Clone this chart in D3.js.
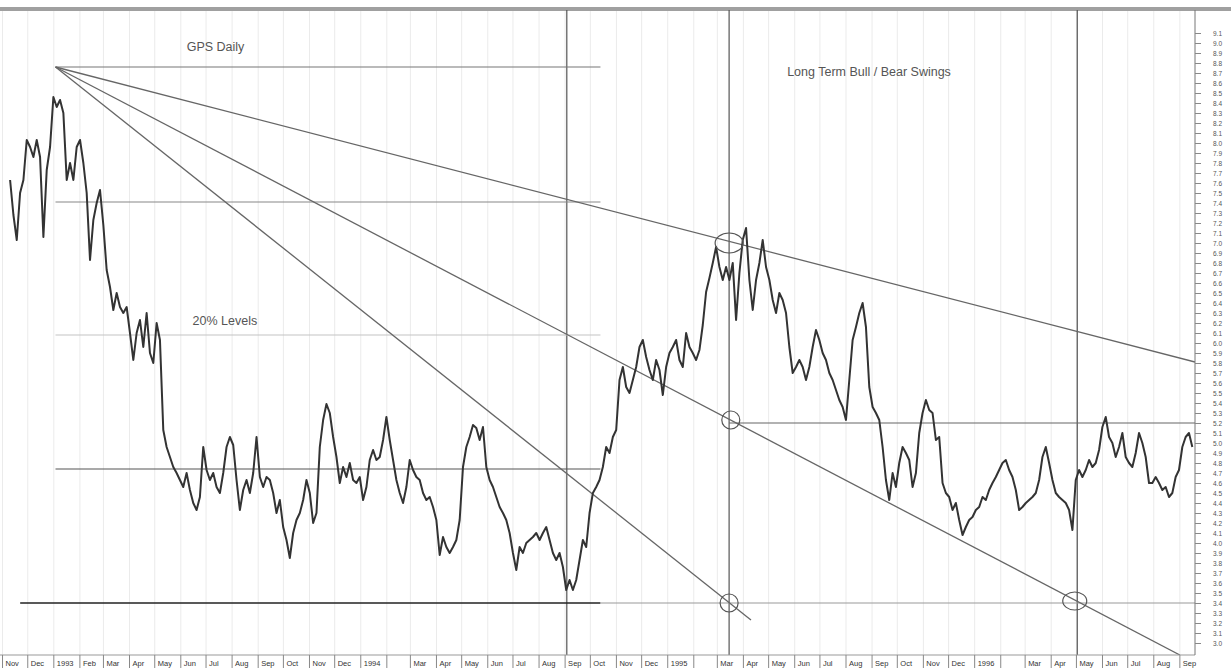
<!DOCTYPE html>
<html>
<head>
<meta charset="utf-8">
<script src="https://cdn.jsdelivr.net/npm/d3@7"></script>
<style>
  body { margin: 0; background: #fff; }
  svg { display: block; font-family: "Liberation Sans", Arial, sans-serif; }
</style>
</head>
<body>
<div id="chart"></div>
<script>
const seriesStart = new Date(1992, 10, 10);
const stepDays = 3.96;
const closes = [
  7.63, 7.28, 7.03, 7.50, 7.63, 8.03, 7.96, 7.86, 8.03, 7.86, 7.06, 7.73, 7.96, 8.46, 8.36, 8.43,
  8.30, 7.63, 7.80, 7.63, 7.96, 8.03, 7.80, 7.50, 6.83, 7.23, 7.40, 7.53, 7.18, 6.73, 6.56, 6.33,
  6.50, 6.36, 6.30, 6.36, 6.10, 5.83, 6.10, 6.23, 5.96, 6.30, 5.90, 5.80, 6.20, 6.03, 5.13, 4.96,
  4.86, 4.76, 4.70, 4.63, 4.56, 4.70, 4.53, 4.40, 4.33, 4.46, 4.96, 4.73, 4.63, 4.70, 4.56, 4.50,
  4.70, 4.96, 5.06, 4.98, 4.63, 4.33, 4.53, 4.63, 4.50, 4.70, 5.06, 4.66, 4.56, 4.66, 4.63, 4.50,
  4.30, 4.43, 4.16, 4.03, 3.85, 4.10, 4.23, 4.30, 4.43, 4.63, 4.50, 4.20, 4.30, 4.96, 5.23, 5.39,
  5.30, 5.06, 4.86, 4.60, 4.76, 4.66, 4.80, 4.63, 4.60, 4.66, 4.43, 4.56, 4.83, 4.93, 4.83, 4.86,
  5.03, 5.26, 5.03, 4.83, 4.63, 4.50, 4.40, 4.56, 4.83, 4.73, 4.66, 4.63, 4.50, 4.43, 4.46, 4.36,
  4.23, 3.88, 4.06, 3.96, 3.90, 3.96, 4.03, 4.23, 4.76, 4.96, 5.06, 5.18, 5.15, 5.03, 5.16, 4.76,
  4.63, 4.56, 4.46, 4.36, 4.30, 4.23, 4.10, 3.90, 3.73, 3.96, 3.90, 4.00, 4.03, 4.06, 4.10, 4.03,
  4.10, 4.16, 4.03, 3.90, 3.83, 3.90, 3.76, 3.53, 3.63, 3.53, 3.63, 3.83, 4.03, 3.96, 4.30, 4.50,
  4.56, 4.63, 4.76, 4.96, 4.90, 5.06, 5.13, 5.63, 5.76, 5.56, 5.50, 5.63, 5.76, 5.96, 6.03, 5.86,
  5.73, 5.63, 5.83, 5.73, 5.48, 5.76, 5.90, 5.96, 6.03, 5.83, 5.76, 6.10, 5.96, 5.90, 5.83, 5.93,
  6.18, 6.51, 6.65, 6.80, 6.96, 6.76, 6.63, 6.76, 6.63, 6.80, 6.23, 6.70, 7.03, 7.15, 6.63, 6.33,
  6.63, 6.80, 7.03, 6.76, 6.63, 6.43, 6.30, 6.50, 6.43, 6.30, 5.96, 5.70, 5.76, 5.83, 5.76, 5.63,
  5.76, 5.96, 6.13, 6.03, 5.90, 5.83, 5.70, 5.63, 5.53, 5.43, 5.36, 5.23, 5.63, 6.03, 6.16, 6.30,
  6.40, 6.16, 5.56, 5.36, 5.30, 5.23, 4.96, 4.63, 4.43, 4.70, 4.56, 4.80, 4.96, 4.90, 4.83, 4.56,
  4.70, 5.10, 5.30, 5.43, 5.33, 5.30, 5.03, 5.06, 4.60, 4.50, 4.46, 4.33, 4.40, 4.23, 4.08, 4.16,
  4.23, 4.26, 4.33, 4.36, 4.46, 4.43, 4.53, 4.60, 4.66, 4.73, 4.80, 4.83, 4.73, 4.66, 4.53, 4.33,
  4.36, 4.40, 4.43, 4.46, 4.50, 4.63, 4.86, 4.96, 4.80, 4.63, 4.50, 4.46, 4.43, 4.40, 4.33, 4.13,
  4.63, 4.73, 4.66, 4.73, 4.83, 4.76, 4.80, 4.93, 5.16, 5.26, 5.06, 5.00, 4.86, 4.96, 5.10, 4.86,
  4.80, 4.76, 4.90, 5.10, 5.00, 4.86, 4.60, 4.60, 4.66, 4.60, 4.53, 4.56, 4.46, 4.50, 4.66, 4.73,
  4.96, 5.06, 5.10, 4.96
];

// 25% retracement levels drawn from the top
const levelValues = [8.76, 7.41, 6.08, 4.74, 3.40];
const levelStart = "1993-01-03", levelEnd = "1994-10-13";
const supportExtension = {value: 3.40, from: "1994-10-13", to: "1996-09-19"};
const midLevel = {value: 5.20, from: "1995-03-15", to: "1996-09-19"};

// fan lines from the 1993 high
const fanOrigin = {date: "1993-01-03", value: 8.76};
const fanEnds = [
  {date: "1996-09-19", value: 5.81},
  {date: "1996-09-01", value: 2.88},
  {date: "1995-04-10", value: 3.23}
];

const markerDates = ["1994-09-03", "1995-03-15", "1996-05-02"];
const circles = [
  {date: "1995-03-15", value: 7.00, rx: 14, ry: 10},
  {date: "1995-03-17", value: 5.23, rx: 9, ry: 9},
  {date: "1995-03-15", value: 3.40, rx: 9, ry: 9},
  {date: "1996-04-29", value: 3.42, rx: 12, ry: 9}
];

const notes = [
  {text: "GPS Daily", date: "1993-06-08", value: 8.92},
  {text: "Long Term Bull / Bear Swings", date: "1995-05-23", value: 8.67},
  {text: "20% Levels", date: "1993-06-15", value: 6.18}
];

const monthNames = ["Jan", "Feb", "Mar", "Apr", "May", "Jun", "Jul", "Aug", "Sep", "Oct", "Nov", "Dec"];
const unlabeledMonths = ["1994-02", "1995-02", "1996-02"];
const priceTicks = d3.range(30, 92).map(d => d / 10);

const W = 1231, H = 670;
const plot = {left: 0, right: 1195, top: 10, bottom: 655};
const parse = d3.timeParse("%Y-%m-%d");

const x = d3.scaleTime()
    .domain([new Date(1992, 9, 29), new Date(1996, 8, 19)])
    .range([plot.left, plot.right]);
const y = d3.scaleLinear()
    .domain([9.1, 3.0])
    .range([33, 643]);

const series = closes.map((v, i) => ({
  date: new Date(seriesStart.getTime() + i * stepDays * 864e5),
  value: v
}));

const svg = d3.select("#chart").append("svg")
    .attr("width", W)
    .attr("height", H);

svg.append("clipPath").attr("id", "plotclip")
  .append("rect")
    .attr("x", plot.left).attr("y", plot.top)
    .attr("width", plot.right - plot.left).attr("height", plot.bottom - plot.top);

// faint monthly grid
const months = d3.timeMonth.range(x.domain()[0], x.domain()[1]);
svg.append("g").selectAll("line")
  .data(months)
  .join("line")
    .attr("x1", d => x(d)).attr("x2", d => x(d))
    .attr("y1", plot.top).attr("y2", plot.bottom)
    .attr("stroke", "#ebebeb")
    .attr("stroke-width", 1);

// top band
svg.append("rect")
    .attr("x", 0).attr("y", 7)
    .attr("width", W).attr("height", 4)
    .attr("fill", "#a0a0a0");

const g = svg.append("g").attr("clip-path", "url(#plotclip)");

// vertical markers
g.selectAll(".vmark")
  .data(markerDates)
  .join("line")
    .attr("x1", d => x(parse(d))).attr("x2", d => x(parse(d)))
    .attr("y1", plot.top).attr("y2", plot.bottom)
    .attr("stroke", "#555")
    .attr("stroke-width", 1.2);

// levels
const levelColors = ["#777", "#888", "#c4c4c4", "#555", "#222"];
g.selectAll(".level")
  .data(levelValues)
  .join("line")
    .attr("x1", (d, i) => x(parse(i === 4 ? "1992-11-22" : levelStart)))
    .attr("x2", x(parse(levelEnd)))
    .attr("y1", d => y(d)).attr("y2", d => y(d))
    .attr("stroke", (d, i) => levelColors[i])
    .attr("stroke-width", (d, i) => i === 4 ? 1.6 : 1.2);

[supportExtension, midLevel].forEach((l, i) => {
  g.append("line")
    .attr("x1", x(parse(l.from))).attr("x2", x(parse(l.to)))
    .attr("y1", y(l.value)).attr("y2", y(l.value))
    .attr("stroke", i === 0 ? "#999" : "#666")
    .attr("stroke-width", 1.2);
});

// fan lines
g.selectAll(".fan")
  .data(fanEnds)
  .join("line")
    .attr("x1", x(parse(fanOrigin.date))).attr("y1", y(fanOrigin.value))
    .attr("x2", d => x(parse(d.date))).attr("y2", d => y(d.value))
    .attr("stroke", "#666")
    .attr("stroke-width", 1.3);

// price
const line = d3.line()
    .x(d => x(d.date))
    .y(d => y(d.value));

g.append("path")
    .datum(series)
    .attr("fill", "none")
    .attr("stroke", "#333")
    .attr("stroke-width", 2)
    .attr("stroke-linejoin", "round")
    .attr("d", line);

// circled pivots
g.selectAll(".circ")
  .data(circles)
  .join("ellipse")
    .attr("cx", d => x(parse(d.date)))
    .attr("cy", d => y(d.value))
    .attr("rx", d => d.rx).attr("ry", d => d.ry)
    .attr("fill", "none")
    .attr("stroke", "#555")
    .attr("stroke-width", 1.2);

// notes
svg.selectAll(".note")
  .data(notes)
  .join("text")
    .attr("x", d => x(parse(d.date)))
    .attr("y", d => y(d.value))
    .attr("font-size", 12.5)
    .attr("fill", "#555")
    .text(d => d.text);

// x axis
svg.append("line")
    .attr("x1", 0).attr("x2", plot.right)
    .attr("y1", plot.bottom).attr("y2", plot.bottom)
    .attr("stroke", "#999");

const xt = svg.append("g").selectAll("g")
  .data(months)
  .join("g")
    .attr("transform", d => `translate(${x(d)},${plot.bottom})`);
xt.append("line")
    .attr("y1", 0).attr("y2", 13)
    .attr("stroke", "#888");
xt.append("text")
    .attr("x", 3).attr("y", 11)
    .attr("font-size", 7.5)
    .attr("fill", "#333")
    .text(d => {
      if (unlabeledMonths.includes(d3.timeFormat("%Y-%m")(d))) return "";
      return d.getMonth() === 0 ? d.getFullYear() : monthNames[d.getMonth()];
    });

// price axis on the right
const yAxis = svg.append("g")
    .attr("transform", `translate(${plot.right},0)`)
    .call(d3.axisRight(y).tickValues(priceTicks).tickSize(6).tickFormat(d3.format(".1f")));
yAxis.select(".domain").attr("d", `M0,${plot.top}V${plot.bottom}`).attr("stroke", "#777");
yAxis.selectAll(".tick line").attr("stroke", "#888");
yAxis.selectAll(".tick text")
    .attr("x", 18)
    .attr("font-size", 6.5)
    .attr("fill", "#555");
</script>
</body>
</html>
